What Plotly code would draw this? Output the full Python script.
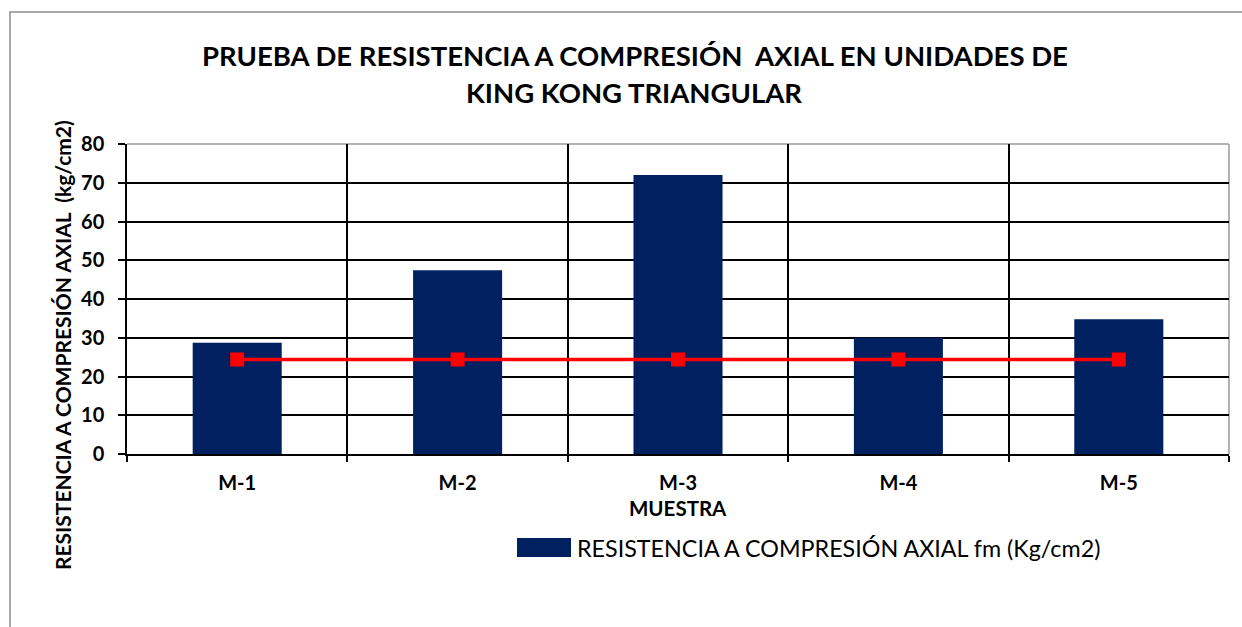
import plotly.graph_objects as go

# Sample labels and measured values
muestras = ["M-1", "M-2", "M-3", "M-4", "M-5"]
resistencia = [28.7, 47.4, 72.0, 30.0, 34.8]
promedio = [24.4, 24.4, 24.4, 24.4, 24.4]
y_ticks = [0, 10, 20, 30, 40, 50, 60, 70, 80]

W, H = 1242, 627
L, R, T, B = 127, 13, 144, 173

FONT = "Lato"
NAVY = "#002060"

fig = go.Figure()
fig.add_trace(go.Bar(
    x=muestras, y=resistencia, marker=dict(color=NAVY, line=dict(width=0)),
    name="RESISTENCIA A COMPRESIÓN AXIAL fm (Kg/cm2)", showlegend=False,
))
fig.add_trace(go.Scatter(
    x=muestras, y=promedio, mode="lines+markers",
    line=dict(color="#FF0000", width=3.5),
    marker=dict(symbol="square", size=14, color="#FF0000"),
    showlegend=False,
))

PW, PH = W - L - R, H - T - B


def fx(px):
    """pixel column -> paper x"""
    return (px - L) / PW


def fy(py):
    """pixel row -> paper y"""
    return (H - py - B) / PH


fig.update_layout(
    width=W, height=H,
    margin=dict(l=L, r=R, t=T, b=B, pad=0),
    paper_bgcolor="white", plot_bgcolor="white",
    bargap=0.596,
    font=dict(family=FONT, color="black"),
    xaxis=dict(
        type="category", tickson="boundaries",
        showgrid=True, gridcolor="black", gridwidth=1.5,
        showline=True, linecolor="black", linewidth=1.5,
        ticks="outside", ticklen=6, tickcolor="black", tickwidth=1.5,
        tickfont=dict(family=FONT, size=20, color="black", weight="bold"),
        ticklabelstandoff=10,
        zeroline=False,
    ),
    yaxis=dict(
        range=[0, 80], tickvals=y_ticks,
        showgrid=True, gridcolor="black", gridwidth=2,
        showline=True, linecolor="black", linewidth=1.5,
        ticks="outside", ticklen=7, tickcolor="black", tickwidth=1.5,
        tickfont=dict(family=FONT, size=20, color="black", weight="bold"),
        ticklabelstandoff=10,
        zeroline=False,
    ),
    shapes=[
        # outer chart frame
        dict(type="rect", xref="paper", yref="paper",
             x0=fx(10), x1=fx(1260), y0=-2, y1=fy(12),
             line=dict(color="#8c8c8c", width=1.5), layer="below"),
        # plot-area border (top and right)
        dict(type="line", xref="paper", yref="paper", x0=0, x1=1, y0=1, y1=1,
             line=dict(color="#9a9a9a", width=1.5), layer="below"),
        dict(type="line", xref="paper", yref="paper", x0=1, x1=1, y0=0, y1=1,
             line=dict(color="#9a9a9a", width=1.5), layer="below"),
        # legend swatch
        dict(type="rect", xref="paper", yref="paper",
             x0=fx(517), x1=fx(571), y0=fy(557), y1=fy(538),
             fillcolor=NAVY, line=dict(width=0)),
    ],
    annotations=[
        dict(text="PRUEBA DE RESISTENCIA A COMPRESIÓN  AXIAL EN UNIDADES DE",
             xref="paper", yref="paper", x=fx(635), y=fy(55),
             xanchor="center", yanchor="middle", showarrow=False,
             font=dict(family=FONT, size=27.5, color="black", weight="bold")),
        dict(text="KING KONG TRIANGULAR",
             xref="paper", yref="paper", x=fx(634), y=fy(92),
             xanchor="center", yanchor="middle", showarrow=False,
             font=dict(family=FONT, size=27.5, color="black", weight="bold")),
        dict(text="RESISTENCIA A COMPRESIÓN AXIAL  (kg/cm2)",
             xref="paper", yref="paper", textangle=-90,
             x=fx(62), y=fy(345),
             xanchor="center", yanchor="middle", showarrow=False,
             font=dict(family=FONT, size=21, color="black", weight="bold")),
        dict(text="MUESTRA",
             xref="paper", yref="paper", x=fx(678), y=fy(508),
             xanchor="center", yanchor="middle", showarrow=False,
             font=dict(family=FONT, size=20.5, color="black", weight="bold")),
        dict(text="RESISTENCIA A COMPRESIÓN AXIAL fm (Kg/cm2)",
             xref="paper", yref="paper", x=fx(575), y=fy(548),
             xanchor="left", yanchor="middle", showarrow=False,
             font=dict(family=FONT, size=23.3, color="black")),
    ],
)

fig.write_html("out.html")
